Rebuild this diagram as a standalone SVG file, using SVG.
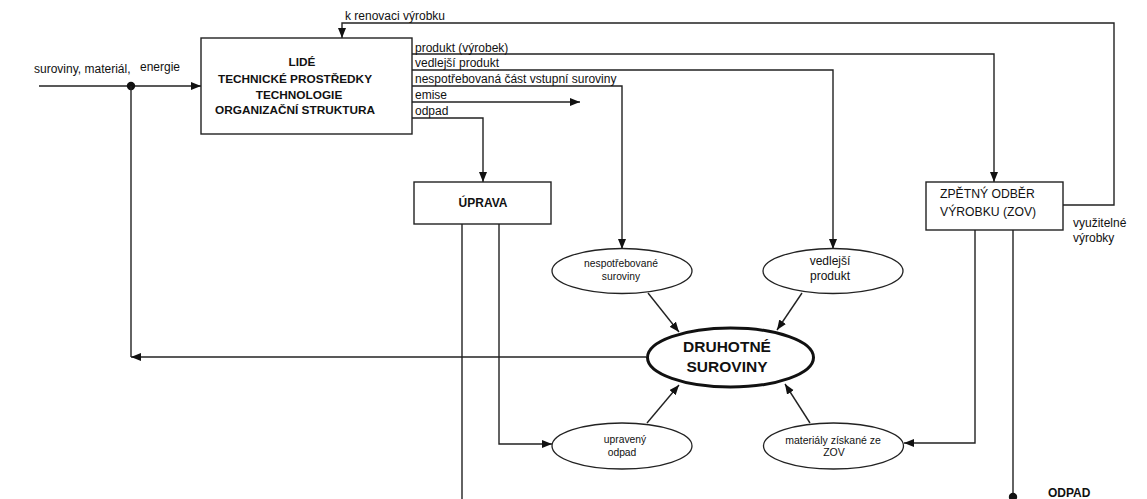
<svg xmlns="http://www.w3.org/2000/svg" width="1147" height="499" viewBox="0 0 1147 499">
<defs>
<marker id="ah" markerUnits="userSpaceOnUse" markerWidth="11" markerHeight="9" refX="10" refY="4" orient="auto"><path d="M0,0 L10,4 L0,8 z" fill="#111"/></marker>
<style>
text{font-family:"Liberation Sans",Arial,sans-serif;fill:#111}
.b{font-weight:bold}
.c{text-anchor:middle}
.ln{fill:none;stroke:#222;stroke-width:1.4}
.ar{marker-end:url(#ah)}
.box{fill:#fff;stroke:#222;stroke-width:1.4}
.el{fill:#fff;stroke:#222;stroke-width:1.3}
</style>
</defs>
<rect width="1147" height="499" fill="#fff"/>
<g id="connectors">
<path class="ln" d="M39,86 H201" marker-end="url(#ah)"/>
<circle cx="131" cy="86" r="4.2" fill="#111"/>
<path class="ln ar" d="M646,357 H131"/>
<path class="ln" d="M131,86 V357"/>
<path class="ln ar" d="M1063,205 H1114 V23 H342 V38"/>
<path class="ln ar" d="M412,54 H994 V182"/>
<path class="ln ar" d="M412,70 H833 V249"/>
<path class="ln ar" d="M412,86 H622 V249"/>
<path class="ln ar" d="M412,102 H580"/>
<path class="ln ar" d="M412,118 H483 V182"/>
<path class="ln" d="M462,224 V499"/>
<path class="ln ar" d="M499,224 V444 H552"/>
<path class="ln ar" d="M975,230 V443 H904"/>
<path class="ln" d="M1013,230 V497"/>
<circle cx="1013" cy="497" r="4.2" fill="#111"/>
<path class="ln ar" d="M648,293 L679,332"/>
<path class="ln ar" d="M802,293 L777,330"/>
<path class="ln ar" d="M647,423 L679,385"/>
<path class="ln ar" d="M810,423 L785,384"/>
</g>
<g id="labels">
<text x="34" y="73" font-size="12">suroviny, materiál,</text>
<text x="140" y="71" font-size="12">energie</text>
<text x="345" y="20" font-size="12">k renovaci výrobku</text>
<text x="415" y="52" font-size="12">produkt (výrobek)</text>
<text x="415" y="67" font-size="12">vedlejší produkt</text>
<text x="415" y="83" font-size="12">nespotřebovaná část vstupní suroviny</text>
<text x="415" y="99" font-size="12">emise</text>
<text x="415" y="115" font-size="12">odpad</text>
<text x="1073" y="227" font-size="12">využitelné</text>
<text x="1073" y="242" font-size="12">výrobky</text>
<text class="b" x="1048" y="497" font-size="12">ODPAD</text>
</g>
<g id="main">
<rect class="box" x="201" y="38" width="211" height="96"/>
<text class="b c" x="302" y="66" font-size="11.8">LIDÉ</text>
<text class="b c" x="295" y="83" font-size="11.8">TECHNICKÉ PROSTŘEDKY</text>
<text class="b c" x="299" y="99" font-size="11.8">TECHNOLOGIE</text>
<text class="b c" x="295" y="114" font-size="11.8">ORGANIZAČNÍ STRUKTURA</text>
</g>
<g id="uprava">
<rect class="box" x="414" y="182" width="137" height="42"/>
<text class="b c" x="483" y="207" font-size="12">ÚPRAVA</text>
</g>
<g id="zov">
<rect class="box" x="926" y="182" width="137" height="48"/>
<text x="940" y="198" font-size="12.2">ZPĚTNÝ ODBĚR</text>
<text x="940" y="216" font-size="12.2">VÝROBKU (ZOV)</text>
</g>
<g id="nespotrebovane">
<ellipse class="el" cx="622" cy="271" rx="70" ry="22.5"/>
<text class="c" x="621" y="267" font-size="10.3">nespotřebované</text>
<text class="c" x="621" y="280" font-size="10.3">suroviny</text>
</g>
<g id="vedlejsi">
<ellipse class="el" cx="833" cy="271" rx="70" ry="22.5"/>
<text class="c" x="830" y="265" font-size="12">vedlejší</text>
<text class="c" x="830" y="280" font-size="12">produkt</text>
</g>
<g id="druhotne">
<ellipse cx="730.5" cy="357.5" rx="83" ry="29.5" fill="#fff" stroke="#111" stroke-width="3"/>
<text class="b c" x="727" y="352" font-size="15.5">DRUHOTNÉ</text>
<text class="b c" x="727" y="372" font-size="15.5">SUROVINY</text>
</g>
<g id="upraveny">
<ellipse class="el" cx="622" cy="446" rx="70" ry="23"/>
<text class="c" x="625" y="443" font-size="10.3">upravený</text>
<text class="c" x="622" y="456" font-size="10.3">odpad</text>
</g>
<g id="materialy">
<ellipse class="el" cx="833.5" cy="446" rx="70" ry="23"/>
<text class="c" x="833" y="444" font-size="10.5">materiály získané ze</text>
<text class="c" x="834" y="456" font-size="10.5">ZOV</text>
</g>
</svg>
